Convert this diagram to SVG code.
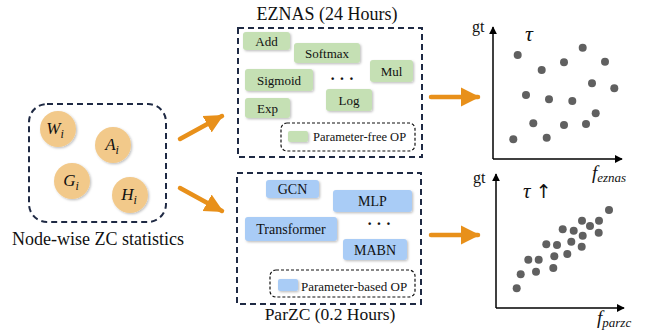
<svg xmlns="http://www.w3.org/2000/svg" width="650" height="331" viewBox="0 0 650 331" font-family="'Liberation Serif', 'Times New Roman', serif">
<defs>
<filter id="sh" x="-20%" y="-20%" width="150%" height="150%">
<feDropShadow dx="1.2" dy="1.2" stdDeviation="0.8" flood-color="#000" flood-opacity="0.25"/>
</filter>
<marker id="ah" viewBox="0 0 10 10" refX="9" refY="5" markerWidth="8" markerHeight="8" markerUnits="userSpaceOnUse" orient="auto">
<path d="M0,0 L10,5 L0,10 Z" fill="#000"/>
</marker>
<marker id="oa" viewBox="0 0 10 10" refX="9" refY="5" markerWidth="4.2" markerHeight="4.4" orient="auto">
<path d="M0,0 L10,5 L0,10 Z" fill="#E8901A"/>
</marker>
</defs>
<style>
text{font-family:'Liberation Serif','Times New Roman',serif;}
.t{fill:#111;}
.m{font-style:italic;fill:#111;}
.dash{fill:none;stroke:#1F2A44;stroke-width:2;stroke-dasharray:6 4;}
.leg{fill:none;stroke:#111;stroke-width:1.2;stroke-dasharray:3 2;}
.g{fill:#C5E0B4;filter:url(#sh);}
.b{fill:#A9CCF6;filter:url(#sh);}
.c{fill:#F2C98A;filter:url(#sh);}
.op{font-size:13px;text-anchor:middle;}
.bp{font-size:14px;text-anchor:middle;}
.dot{fill:#606060;}
.ax{stroke:#000;stroke-width:1.5;fill:none;marker-end:url(#ah);}
.arr{stroke:#E8901A;stroke-width:4.5;fill:none;stroke-linecap:round;marker-end:url(#oa);}
.up{font-family:'DejaVu Sans',sans-serif;font-style:normal;fill:#111;}
</style>

<g id="zc-stats">
<rect class="dash" x="29" y="104" width="137" height="118" rx="18"/>
<circle class="c" cx="58" cy="129" r="18"/>
<text class="m" x="55" y="134" font-size="17" text-anchor="middle">W<tspan font-size="12" dy="4">i</tspan></text>
<circle class="c" cx="113" cy="145" r="18"/>
<text class="m" x="112" y="150" font-size="17" text-anchor="middle">A<tspan font-size="12" dy="4">i</tspan></text>
<circle class="c" cx="72" cy="181" r="18"/>
<text class="m" x="71" y="186" font-size="17" text-anchor="middle">G<tspan font-size="12" dy="4">i</tspan></text>
<circle class="c" cx="130" cy="195" r="18"/>
<text class="m" x="129" y="200" font-size="17" text-anchor="middle">H<tspan font-size="12" dy="4">i</tspan></text>
<text class="t" x="98" y="245" font-size="18" text-anchor="middle">Node-wise ZC statistics</text>
</g>

<g id="eznas">
<text class="t" x="327" y="20" font-size="18" text-anchor="middle">EZNAS (24 Hours)</text>
<rect class="dash" x="238" y="28" width="184" height="129"/>
<rect class="g" x="243" y="32" width="47" height="18" rx="3"/>
<text class="t op" x="266.5" y="45.5">Add</text>
<rect class="g" x="294" y="43" width="66" height="20" rx="3"/>
<text class="t op" x="327" y="57.5">Softmax</text>
<rect class="g" x="370" y="60" width="43" height="22" rx="3"/>
<text class="t op" x="391.5" y="75.5">Mul</text>
<rect class="g" x="245" y="69" width="68" height="22" rx="3"/>
<text class="t op" x="279" y="84.5">Sigmoid</text>
<text class="t" x="342" y="84" font-size="16" font-weight="bold" text-anchor="middle">· · ·</text>
<rect class="g" x="326" y="89" width="46" height="22" rx="3"/>
<text class="t op" x="349" y="104.5">Log</text>
<rect class="g" x="245" y="98" width="45" height="20" rx="3"/>
<text class="t op" x="267.5" y="112.5">Exp</text>
<rect class="leg" x="281" y="123" width="134" height="28" rx="6"/>
<rect class="g" x="288" y="131" width="20" height="11" rx="2"/>
<text class="t" x="313" y="140.5" font-size="12.5">Parameter-free OP</text>
</g>

<g id="parzc">
<rect class="dash" x="237" y="173" width="184" height="131"/>
<rect class="b" x="266" y="180" width="53" height="18" rx="3"/>
<text class="t bp" x="292.5" y="194">GCN</text>
<rect class="b" x="333" y="190" width="79" height="22" rx="3"/>
<text class="t bp" x="372.5" y="206">MLP</text>
<rect class="b" x="245" y="217" width="92" height="24" rx="3"/>
<text class="t bp" x="291" y="234">Transformer</text>
<text class="t" x="379" y="229" font-size="16" font-weight="bold" text-anchor="middle">· · ·</text>
<rect class="b" x="343" y="239" width="64" height="21" rx="3"/>
<text class="t bp" x="375" y="254.5">MABN</text>
<rect class="leg" x="270" y="270" width="145" height="27" rx="6"/>
<rect class="b" x="278" y="279" width="20" height="12" rx="2"/>
<text class="t" x="301" y="290.5" font-size="13">Parameter-based OP</text>
<text class="t" x="330" y="320" font-size="17.5" text-anchor="middle">ParZC (0.2 Hours)</text>
</g>

<g id="plot-eznas">
<path class="ax" d="M493,159 V27"/>
<path class="ax" d="M493,159 H622"/>
<text class="t" x="472" y="32" font-size="16">gt</text>
<text class="m" x="525" y="41" font-size="22">τ</text>
<g class="dot">
<circle cx="517.7" cy="55" r="4"/><circle cx="582.7" cy="47.7" r="4"/><circle cx="564" cy="62.3" r="4"/><circle cx="605" cy="61.7" r="4"/>
<circle cx="541.7" cy="70" r="4"/><circle cx="592" cy="83.3" r="4"/><circle cx="614.3" cy="88.3" r="4"/><circle cx="526" cy="95" r="4"/>
<circle cx="549" cy="99.3" r="4"/><circle cx="572.3" cy="101" r="4"/><circle cx="595.7" cy="113.3" r="4"/><circle cx="533.3" cy="123.3" r="4"/>
<circle cx="564" cy="125" r="4"/><circle cx="586" cy="124" r="4"/><circle cx="513.3" cy="139.3" r="4"/><circle cx="546.7" cy="137.7" r="4"/>
</g>
<text class="m" x="592" y="179" font-size="19">f<tspan font-size="13" dy="3">eznas</tspan></text>
</g>

<g id="plot-parzc">
<path class="ax" d="M496,308 V174"/>
<path class="ax" d="M496,308 H624"/>
<text class="t" x="473" y="183" font-size="16">gt</text>
<text class="m" x="523" y="198" font-size="21">τ <tspan class="up" font-size="19">↑</tspan></text>
<g class="dot">
<circle cx="516.7" cy="288.3" r="4"/><circle cx="520.7" cy="274.3" r="4"/><circle cx="528.3" cy="259.7" r="4"/><circle cx="538.7" cy="259.7" r="4"/>
<circle cx="536" cy="271.7" r="4"/><circle cx="546.3" cy="244.3" r="4"/><circle cx="557" cy="245" r="4"/><circle cx="554.3" cy="256.3" r="4"/>
<circle cx="553.3" cy="268" r="4"/><circle cx="562.7" cy="229.3" r="4"/><circle cx="567.3" cy="254" r="4"/><circle cx="571.3" cy="241.7" r="4"/>
<circle cx="573.7" cy="230.7" r="4"/><circle cx="582" cy="220.7" r="4"/><circle cx="582.7" cy="235.7" r="4"/><circle cx="581.7" cy="246.7" r="4"/>
<circle cx="590" cy="226" r="4"/><circle cx="599" cy="220.7" r="4"/><circle cx="598.7" cy="232.7" r="4"/><circle cx="609" cy="210" r="4"/>
</g>
<text class="m" x="597" y="324" font-size="19">f<tspan font-size="13" dy="3">parzc</tspan></text>
</g>

<g id="connectors">
<path class="arr" d="M180,139 L222,116"/>
<path class="arr" d="M180,188 L222,211"/>
<path class="arr" d="M431,97 L478,97"/>
<path class="arr" d="M431,235 L478,235"/>
</g>
</svg>
